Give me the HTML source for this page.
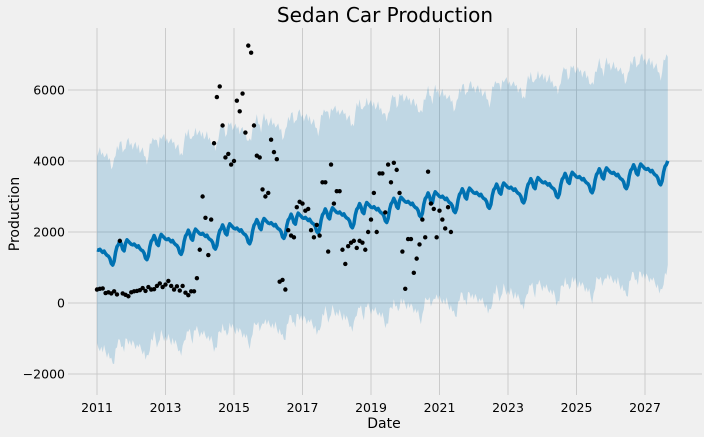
<!DOCTYPE html>
<html><head><meta charset="utf-8"><style>
body{margin:0;background:#f0f0f0;font-family:"DejaVu Sans","Liberation Sans",sans-serif;}
svg{display:block}
</style></head><body>
<svg id="chart" width="704" height="437">
<rect width="704" height="437" fill="#f0f0f0"/>
<g id="grid"></g><g id="band"></g><g id="line"></g><g id="pts"></g><g id="axes"></g>
<text x="385" y="22" text-anchor="middle" font-size="20" fill="#000">Sedan Car Production</text>
<text x="384" y="428" text-anchor="middle" font-size="14" fill="#000">Date</text>
<text x="19" y="214" text-anchor="middle" font-size="14" fill="#000" transform="rotate(-90 19 214)">Production</text>
</svg>
<script>
const obsValues=[
380,400,410,280,300,270,330,240,1750,270,230,190,
300,330,340,360,420,340,450,380,390,480,550,450,
520,620,480,380,470,350,480,290,220,330,330,700,
1500,3000,2400,1350,2350,4500,5800,6100,5000,4100,4200,3900,
4000,5700,5400,5900,4800,7250,7050,5000,4150,4100,3200,3000,
3100,4600,4250,4050,600,650,380,2050,1900,1850,2700,2850,
2800,2600,2650,2050,1850,2200,1900,3400,3400,1450,3900,2800,
3150,3150,1500,1100,1600,1700,1750,1550,1750,1700,1500,2000,
2350,3100,2000,3650,3650,2550,3900,3400,3950,3750,3100,1450,
400,1800,1800,850,1250,1650,2350,1850,3700,2800,2650,1850,
2600,2350,2100,2700,2000];
const trendYears=[2011,2012,2013,2014,2015,2016,2017,2018,2019,2020,2021,2022,2023,2024,2025,2026,2027,2028];
const trendValues=[1350,1500,1650,1800,1950,2100,2250,2400,2550,2700,2850,2950,3100,3250,3400,3520,3630,3740];
const seasonal=[150,130,150,100,50,80,0,-50,-80,-150,-300,-350,-250,0,150,200,300,200,50,0,200,300,250,200];
const bandHalf=[2750,2800,2800,2800,2850,2850,2850,2850,2900,2900,2900,2950,2950,2950,3000,3000,3050,3050];
const yTicks=[-2000,0,2000,4000,6000];
const xTicks=[2011,2013,2015,2017,2019,2021,2023,2025,2027];
const forecastSteps=401;
const NS='http://www.w3.org/2000/svg';
const L=68,R=702,T=28,B=395;
const xs=yr=>97+(yr-2011)*34.25;
const ys=v=>303-v*0.0355;
function mk(tag,attrs,parent){const e=document.createElementNS(NS,tag);for(const k in attrs)e.setAttribute(k,attrs[k]);document.getElementById(parent).appendChild(e);return e;}
function trendAt(yr){let i=Math.min(Math.floor(yr-2011),trendYears.length-2);i=Math.max(i,0);const f=yr-trendYears[i];return trendValues[i]+(trendValues[i+1]-trendValues[i])*f;}
function halfAt(yr){let i=Math.min(Math.max(Math.floor(yr-2011),0),bandHalf.length-2);const f=yr-trendYears[i];return bandHalf[i]+(bandHalf[i+1]-bandHalf[i])*f;}
mk('rect',{x:L,y:T,width:R-L,height:B-T,fill:'#f0f0f0'},'grid');
yTicks.forEach(v=>{const l=mk('line',{x1:L,x2:R,y1:ys(v),y2:ys(v),stroke:'#cbcbcb','stroke-width':1},'grid');

const t=mk('text',{x:L-3,y:ys(v)+4.5,'text-anchor':'end','font-size':12.5},'axes');t.textContent=String(v).replace('-','\u2212');
});
xTicks.forEach(v=>{const l=mk('line',{y1:T,y2:B,x1:xs(v),x2:xs(v),stroke:'#cbcbcb','stroke-width':1},'grid');

const t=mk('text',{x:xs(v),y:B+17,'text-anchor':'middle','font-size':12.5},'axes');t.textContent=v;
});
let line=[],up=[],lo=[];
for(let m=0;m<forecastSteps;m++){const yr=2011+m/24;const y=trendAt(yr)+seasonal[m%24];const h=halfAt(yr)+((m*7)%5-2)*60;
line.push(xs(yr).toFixed(1)+','+ys(y).toFixed(1));up.push(xs(yr).toFixed(1)+','+ys(y+h).toFixed(1));lo.unshift(xs(yr).toFixed(1)+','+ys(y-h).toFixed(1));}
const band=mk('polygon',{points:up.concat(lo).join(' '),fill:'#0072B2','fill-opacity':0.2},'band');

const pl=mk('polyline',{points:line.join(' '),fill:'none',stroke:'#0072B2','stroke-width':3.5,'stroke-linejoin':'round'},'line');

obsValues.forEach((v,i)=>{const c=mk('circle',{cx:xs(2011+i/12),cy:ys(v),r:2.2,fill:'#000'},'pts');
});
</script>
</body></html>
